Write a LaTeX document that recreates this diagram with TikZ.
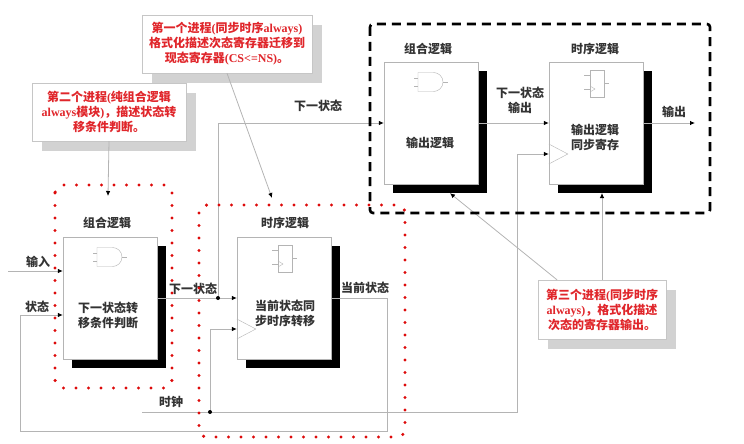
\documentclass[tikz,border=0pt]{standalone}
\usepackage{fontspec}
\setmainfont{Liberation Serif}
\newfontfamily\cjk{Noto Sans CJK SC}
\usetikzlibrary{shadows, arrows.meta}
\definecolor{wire}{HTML}{B4B4B4}
\definecolor{txt}{HTML}{333333}
\definecolor{note}{HTML}{E0262B}
\definecolor{zonered}{HTML}{DD0A0A}
\newcommand{\lat}[1]{{\rmfamily #1}}
\tikzstyle{blk} = [draw=wire, fill=white, minimum width=94pt, minimum height=122pt, drop shadow={shadow xshift=9pt, shadow yshift=-9pt, fill=black, opacity=1}]
\tikzstyle{lbl} = [font=\cjk\bfseries\fontsize{12}{15}\selectfont, text=txt, align=center, inner sep=0pt]
\tikzstyle{note} = [draw=gray!45, fill=white, text=note, font=\cjk\bfseries\fontsize{12}{15}\selectfont, align=center, minimum height=58pt, drop shadow={shadow xshift=10pt, shadow yshift=-10pt, fill=gray!35, opacity=1}]
\tikzstyle{sig} = [draw=wire, line width=0.8pt, -{Latex[length=5pt, width=4.5pt, color=black]}]
\tikzstyle{redzone} = [draw=zonered, line width=3.4pt, line cap=round, dash pattern=on 0pt off 12.5pt, rounded corners=8pt]
\tikzstyle{dashzone} = [draw=black, line width=2.6pt, dash pattern=on 9pt off 6pt, rounded corners=3pt]
\newcommand{\andgate}[1]{%
  \begin{scope}[shift={(#1)}]
  \draw[wire] (-17,-45) -- (-13,-45) (-17,-37) -- (-13,-37) (12,-41) -- (17,-41);
  \draw[wire] (-13,-50.5) -- (2.5,-50.5) arc[start angle=-90, end angle=90, radius=9.5] -- (-13,-31.5) -- cycle;
  \end{scope}}
\newcommand{\ffbox}[1]{%
  \begin{scope}[shift={(#1)}]
  \draw[wire] (-6,-53) rectangle (8,-26);
  \draw[wire] (-12,-48) -- (-6,-48) (-12,-34) -- (-6,-34) (8,-40) -- (13,-40);
  \draw[wire] (-6,-37) -- (-1,-34) -- (-6,-31);
  \end{scope}}
\begin{document}
\begin{tikzpicture}[x=1pt, y=-1pt]
\useasboundingbox (0,0) rectangle (744,444);
% blocks
\node[blk] (comb) at (110,298) {};
\node[blk] (seq) at (284,298) {};
\node[blk] (cout) at (431,123) {};
\node[blk] (cff) at (596,123) {};
\andgate{comb.center}
\andgate{cout.center}
\ffbox{seq.center}
\ffbox{cff.center}
\draw[wire] ([yshift=-21pt]seq.west) -- ([xshift=19pt,yshift=-31pt]seq.west) -- ([yshift=-41pt]seq.west);
\draw[wire] ([yshift=-21pt]cff.west) -- ([xshift=19pt,yshift=-31pt]cff.west) -- ([yshift=-41pt]cff.west);
% titles and texts
\node[lbl] (combt) at (107,223) {组合逻辑};
\node[lbl] (seqt) at (285,223) {时序逻辑};
\node[lbl] (coutt) at (428,49) {组合逻辑};
\node[lbl] (cfft) at (595,49) {时序逻辑};
\node[lbl] (combx) at (108,315) {下一状态转\\移条件判断};
\node[lbl] (seqx) at (285,313) {当前状态同\\步时序转移};
\node[lbl] (coutx) at (430,143) {输出逻辑};
\node[lbl] (cffx) at (595,137) {输出逻辑\\同步寄存};
% signals
\coordinate (in) at (8,271);
\draw[sig] (in) -- (in -| comb.west);
\node[lbl] (inl) at (38,262) {输入};
\coordinate (fbr) at (387,431);
\coordinate (fbl) at (20,431);
\draw[sig] (seq.east) -| (fbr) -- (fbl) |- ([yshift=-17pt]comb.west);
\node[lbl] (stl) at (37,307) {状态};
\node[lbl] (csl) at (365,288) {当前状态};
\coordinate (nsdot) at (218,298);
\draw[sig] (comb.east) -- (seq.west);
\draw[sig] (nsdot) |- (cout.west);
\fill (nsdot) circle (2pt);
\node[lbl] (nsl) at (193,289) {下一状态};
\node[lbl] (nsl2) at (318,106) {下一状态};
\coordinate (clk) at (142,412);
\coordinate (clkr) at (517,412);
\coordinate (clkdot) at (210,412);
\draw[sig] (clk) -- (clkr) |- ([yshift=-31pt]cff.west);
\draw[sig] (clkdot) |- ([yshift=-31pt]seq.west);
\fill (clkdot) circle (2pt);
\node[lbl] (clkl) at (171,402) {时钟};
\draw[sig] (cout.east) -- (cff.west);
\node[lbl] (nol) at (520,100) {下一状态\\输出};
\coordinate (out) at (695,123);
\draw[sig] (cff.east) -- (out);
\node[lbl] (outl) at (674,112) {输出};
% callouts
\node[note, minimum width=170pt] (call1) at (227,44) {第一个进程\lat{(}同步时序\lat{always)}\\格式化描述次态寄存器迁移到\\现态寄存器\lat{(CS<=NS)}。};
\node[note, minimum width=154pt] (call2) at (109,112) {第二个进程\lat{(}纯组合逻辑\\\lat{always}模块\lat{)}，描述状态转\\移条件判断。};
\node[note, minimum width=128pt, minimum height=59pt] (call3) at (602,309.5) {第三个进程\lat{(}同步时序\\\lat{always)}，格式化描述\\次态的寄存器输出。};
\coordinate (tip1) at (272,198);
\coordinate (tip2) at (108,196);
\coordinate (tip3) at (602,193);
\draw[sig] (call1.south) -- (tip1);
\draw[sig] (call2.south) -- (tip2);
\draw[sig] ([xshift=-45pt]call3.north) -- ([xshift=19pt,yshift=-9pt]cout.south);
\draw[sig] (call3.north) -- (tip3);
% zones
\draw[redzone] (55,185) rectangle (172,388);
\draw[redzone] (199,205) rectangle (405,437);
\draw[dashzone] (370,24) rectangle (710,213);
\end{tikzpicture}
\end{document}
